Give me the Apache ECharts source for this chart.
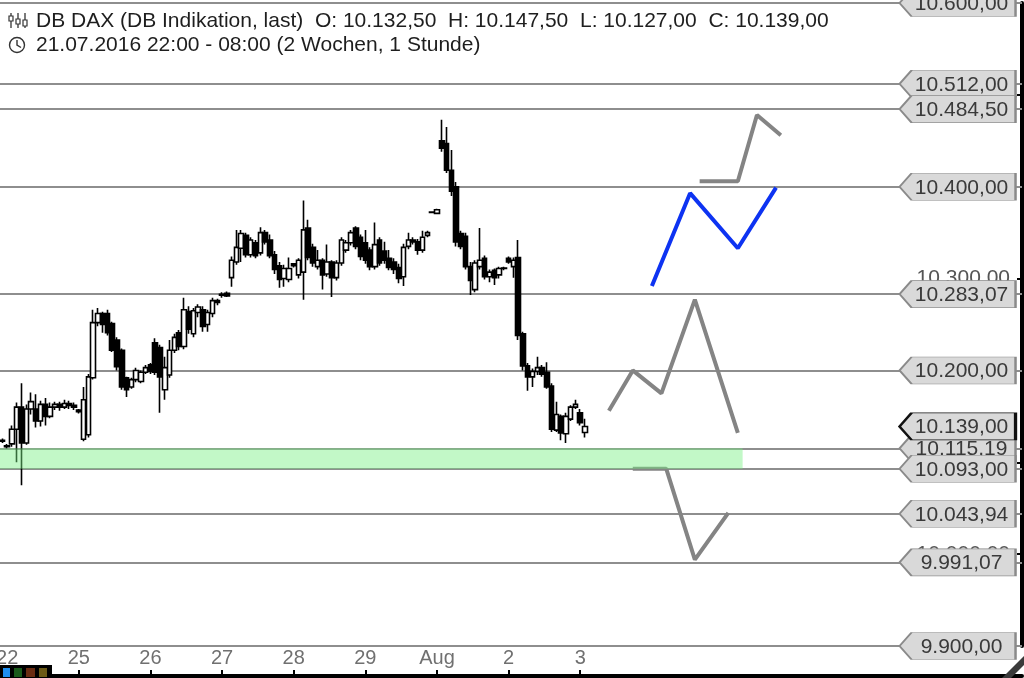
<!DOCTYPE html>
<html><head><meta charset="utf-8">
<script src="https://cdn.jsdelivr.net/npm/echarts@6.0.0/dist/echarts.min.js"></script>
<style>html,body{margin:0;padding:0;background:#fff;}#chart{width:1024px;height:678px;}</style>
</head><body><div id="chart"></div>
<script>
// ---- data ----
const firstCandle = '21.07. 22:00';
const tradingDays = ['22.07.', '25.07.', '26.07.', '27.07.', '28.07.', '29.07.', '01.08.', '02.08.'];
const laterDays = ['03.08.', '04.08.', '05.08.', '08.08.', '09.08.', '10.08.', '11.08.'];
const hours = ['08:00','09:00','10:00','11:00','12:00','13:00','14:00','15:00','16:00','17:00','18:00','19:00','20:00','21:00','22:00'];
const totalSlots = 214;

const openV = [10123,10117,10120,10136,10160,10121,10158,10158,10145,10163,
 10150,10160,10163,10160,10164,10162,10157,10125,10130,10192,
 10252,10262,10262,10251,10233,10222,10192,10182,10190,10188,
 10198,10206,10230,10225,10179,10195,10222,10241,10226,10264,
 10240,10263,10266,10250,10262,10276,10282,10284,10301,10318,
 10333,10347,10326,10339,10328,10350,10342,10326,10314,10300,
 10299,10316,10304,10307,10355,10334,10313,10320,10305,10318,
 10301,10317,10331,10339,10355,10345,10339,10331,10313,10342,
 10330,10322,10318,10312,10302,10335,10342,10340,10331,10347,
 10372.5,10371,10450,10447,10418,10400,10349,10346,10313,10288,
 10313,10322,10302,10309,10304,10311.5,10322,10313,10323,10240,
 10205,10193,10199,10203,10198,10183,10135,10150,10131,10147,
 10160,10154,10132.5];
const closeV = [10124,10118,10136,10160,10121,10158,10166,10145,10163,10150,
 10160,10163,10160,10164,10162,10160,10155,10168,10193,10252,
 10262,10250,10241,10222,10204,10182,10179,10190,10200,10198,
 10203,10199,10198,10193,10203,10222,10236,10226,10266,10245,
 10265,10269,10248,10263,10276,10274,10283,10281,10320,10334,
 10349,10326,10342,10325,10350,10340,10325,10310,10299,10311,
 10311,10314,10320,10353,10323,10317,10320,10304,10318,10301,
 10317,10342,10339,10350,10335,10324,10320,10313,10337,10317,
 10320,10312,10310,10300,10334,10342,10340,10331,10345,10350,
 10372,10375,10442,10418,10395,10340,10335,10313,10298,10317,
 10320,10302,10307,10301,10311,10311,10318,10320,10238,10205,
 10193,10199,10203,10196,10182,10136,10152,10132,10150,10160,
 10163,10143,10139];
const lowV = [10121,10115,10117,10100,10075,10119,10152,10138,10139,10140,
 10148,10157,10156,10158,10158,10157,10153,10123,10127,10190,
 10248,10241,10238,10220,10200,10179,10171,10180,10187,10186,
 10196,10196,10195,10154,10168,10192,10219,10222,10223,10240,
 10236,10258,10242,10242,10258,10271,10279,10280,10291,10315,
 10318,10323,10323,10322,10325,10337,10322,10305,10290,10291,
 10296,10312,10300,10277,10320,10313,10310,10288,10302,10280,
 10298,10314,10328,10336,10332,10320,10316,10309,10310,10314,
 10316,10309,10305,10295,10292,10332,10337,10326,10328,10345,
 10371,10370,10438,10415,10390,10335,10332,10310,10282,10285,
 10310,10299,10296,10293,10300,10309,10316,10301,10233,10200,
 10178,10182,10195,10193,10180,10133,10133,10124,10121,10145,
 10158,10140,10127];
const highV = [10126,10120,10140,10165,10186,10163,10176,10174,10167,10170,
 10165,10166,10166,10168,10167,10165,10158,10182,10196,10266,
 10268,10264,10266,10253,10236,10224,10193,10192,10203,10200,
 10206,10208,10235,10228,10215,10233,10240,10244,10279,10270,
 10268,10272,10270,10266,10279,10278,10285,10286,10324,10353,
 10353,10350,10345,10342,10356,10353,10348,10330,10318,10315,
 10323,10317,10322,10385,10364,10338,10331,10322,10337,10320,
 10320,10345,10342,10353,10357,10348,10353,10334,10361,10345,
 10340,10331,10322,10316,10338,10350,10345,10343,10352,10352,
 10373,10376,10473,10465,10440,10405,10352,10350,10318,10320,
 10355,10325,10310,10311,10313,10313,10324,10323,10342,10242,
 10208,10202,10215,10206,10209,10186,10166,10152,10154,10162,
 10168,10158,10147.5];

// horizontal price levels (with labels), current price, zone
const levelLines = [10600, 10512, 10484.5, 10400, 10283.07, 10200, 10115.19, 10093, 10043.94, 9991.07, 9900];
const lowerLayerLevels = [10115.19];
const currentPrice = 10139;
const zoneTop = 10115.19, zoneBottom = 10093, zoneEndSlot = 155;
const labelSlot = 200;

// projected paths: [slot, price]
const pathUpperGray = [[146, 10406], [154, 10406], [158, 10478], [163, 10456]];
const pathBlue = [[136, 10292], [144, 10393], [154, 10333], [162, 10399]];
const pathMiddleGray = [[127, 10156], [132, 10200], [138, 10175], [145, 10277], [154, 10132]];
const pathLowerGray = [[132, 10093], [139, 10093], [145, 9994], [152, 10045]];

const headerLine1 = 'DB DAX (DB Indikation, last)  O: 10.132,50  H: 10.147,50  L: 10.127,00  C: 10.139,00';
const headerLine2 = '21.07.2016 22:00 - 08:00 (2 Wochen, 1 Stunde)';

// ---- build ----
const categories = [firstCandle];
tradingDays.concat(laterDays).forEach(d => hours.forEach(h => categories.push(d + ' ' + h)));
categories.length = totalSlots;
const candleCount = openV.length;
const candles = openV.map((o, i) => [o, closeV[i], lowV[i], highV[i]]);

function fmtDE(v) {
  const s = Number(v).toFixed(2).split('.');
  return s[0].replace(/\B(?=(\d{3})+(?!\d))/g, '.') + ',' + s[1];
}
const FONT = '"Liberation Sans", Arial, sans-serif';
const boxPath = 'path://M0,13.5L12,0L116,0L116,27L12,27Z';
function boxItem(v, current) {
  const it = { coord: [labelSlot, v], value: v };
  if (current) it.itemStyle = { borderColor: '#111', borderWidth: 1.6 };
  return it;
}
const boxLabel = { show: true, position: 'inside', offset: [4, 1], fontSize: 21, color: '#3a3a3a', fontFamily: FONT, formatter: p => fmtDE(p.value) };
const dayLabelFilter = (i, v) => i > 0 && i < candleCount && v.slice(-5) === '08:00';

const chart = echarts.init(document.getElementById('chart'), null, { renderer: 'canvas' });
chart.setOption({
  animation: false,
  backgroundColor: '#ffffff',
  textStyle: { fontFamily: FONT },
  grid: { left: 0, right: 2, top: 3, bottom: 32, containLabel: false, outerBoundsMode: 'none' },
  xAxis: {
    type: 'category', data: categories, boundaryGap: true, position: 'bottom', offset: 30,
    axisLine: { show: true, lineStyle: { color: '#000', width: 4 } },
    axisTick: { show: true, inside: true, length: 6, alignWithLabel: true, interval: dayLabelFilter, lineStyle: { color: '#000', width: 2 } },
    axisLabel: {
      inside: true, margin: 8, fontSize: 20, color: '#707070', interval: dayLabelFilter,
      formatter: v => v.indexOf('01.08.') === 0 ? 'Aug' : String(parseInt(v.slice(0, 2), 10))
    },
    splitLine: { show: false }
  },
  yAxis: {
    type: 'value', position: 'right', min: 9900, max: 10600, interval: 100,
    axisLine: { show: true, lineStyle: { color: '#000', width: 4 } },
    axisTick: { show: true, inside: true, length: 5, lineStyle: { color: '#000', width: 2 } },
    axisLabel: { inside: true, margin: 12, fontSize: 21, color: '#555', formatter: v => fmtDE(v) },
    splitLine: { show: false }
  },
  series: [
    {
      name: 'DB DAX', type: 'candlestick', data: candles, barWidth: 5, z: 3,
      itemStyle: { color: '#ffffff', color0: '#000000', borderColor: '#000000', borderColor0: '#000000', borderWidth: 1.6 }
    },
    {
      name: 'Marken', type: 'line', data: [], silent: true,
      markLine: {
        silent: true, z: 1, symbol: 'none', label: { show: false },
        lineStyle: { color: '#8e8e8e', width: 2, type: 'solid' },
        emphasis: { disabled: true },
        data: levelLines.map(v => ({ yAxis: v }))
      },
      markArea: {
        silent: true, z: 6,
        itemStyle: { color: 'rgba(120,240,130,0.45)' },
        data: [[{ yAxis: zoneTop }, { xAxis: zoneEndSlot, yAxis: zoneBottom }]]
      },
      markPoint: {
        silent: true, z: 7, symbol: boxPath, symbolSize: [116, 27],
        itemStyle: { color: '#d9d9d9', borderColor: '#8a8a8a', borderWidth: 1.2 },
        label: boxLabel,
        data: lowerLayerLevels.map(v => boxItem(v, false))
      }
    },
    {
      name: 'Marken2', type: 'line', data: [], silent: true,
      markPoint: {
        silent: true, z: 8, symbol: boxPath, symbolSize: [116, 27],
        itemStyle: { color: '#d9d9d9', borderColor: '#8a8a8a', borderWidth: 1.2 },
        label: boxLabel,
        data: levelLines.filter(v => lowerLayerLevels.indexOf(v) < 0).map(v => boxItem(v, false)).concat([boxItem(currentPrice, true)])
      }
    },
    { name: 'Szenario 1', type: 'line', data: pathUpperGray, symbol: 'none', z: 4, lineStyle: { color: '#848484', width: 4 } },
    { name: 'Szenario 2', type: 'line', data: pathBlue, symbol: 'none', z: 4, lineStyle: { color: '#0d33f2', width: 4 } },
    { name: 'Szenario 3', type: 'line', data: pathMiddleGray, symbol: 'none', z: 4, lineStyle: { color: '#848484', width: 4 } },
    { name: 'Szenario 4', type: 'line', data: pathLowerGray, symbol: 'none', z: 4, lineStyle: { color: '#848484', width: 4 } }
  ],
  graphic: [
    { type: 'line', z: 100, shape: { x1: 11, y1: 13, x2: 11, y2: 28 }, style: { stroke: '#333', lineWidth: 1.3 } },
    { type: 'rect', z: 101, shape: { x: 9, y: 16, width: 4, height: 5 }, style: { fill: '#fff', stroke: '#333', lineWidth: 1.2 } },
    { type: 'line', z: 100, shape: { x1: 18, y1: 13, x2: 18, y2: 28 }, style: { stroke: '#333', lineWidth: 1.3 } },
    { type: 'rect', z: 101, shape: { x: 16, y: 19, width: 4, height: 5 }, style: { fill: '#fff', stroke: '#333', lineWidth: 1.2 } },
    { type: 'line', z: 100, shape: { x1: 25, y1: 13, x2: 25, y2: 28 }, style: { stroke: '#333', lineWidth: 1.3 } },
    { type: 'rect', z: 101, shape: { x: 23, y: 20, width: 4, height: 6 }, style: { fill: '#fff', stroke: '#333', lineWidth: 1.2 } },
    { type: 'text', z: 100, x: 36, y: 21, style: { text: headerLine1, font: '21px ' + FONT, fill: '#1e1e1e', verticalAlign: 'middle' } },
    { type: 'circle', z: 100, shape: { cx: 17, cy: 45, r: 7.5 }, style: { fill: 'none', stroke: '#333', lineWidth: 1.4 } },
    { type: 'polyline', z: 100, shape: { points: [[17, 40], [17, 45], [21, 47.5]] }, style: { stroke: '#333', lineWidth: 1.4, fill: 'none' } },
    { type: 'text', z: 100, x: 36, y: 45, style: { text: headerLine2, font: '21px ' + FONT, fill: '#1e1e1e', verticalAlign: 'middle' } },
    { type: 'rect', z: 100, shape: { x: 0, y: 665, width: 52, height: 13 }, style: { fill: '#000' } },
    { type: 'rect', z: 101, shape: { x: 3, y: 668, width: 7, height: 9 }, style: { fill: '#1e8ff0' } },
    { type: 'rect', z: 101, shape: { x: 14, y: 668, width: 8, height: 9 }, style: { fill: '#1b5a1b' } },
    { type: 'rect', z: 101, shape: { x: 26, y: 668, width: 9, height: 9 }, style: { fill: '#6a2c12' } },
    { type: 'rect', z: 101, shape: { x: 39, y: 668, width: 8, height: 9 }, style: { fill: '#6c5a16' } },
    { type: 'polygon', z: 100, shape: { points: [[1002, 678], [1024, 656], [1024, 665], [1011, 678]] }, style: { fill: '#3a3a3a' } }
  ]
});
</script></body></html>
